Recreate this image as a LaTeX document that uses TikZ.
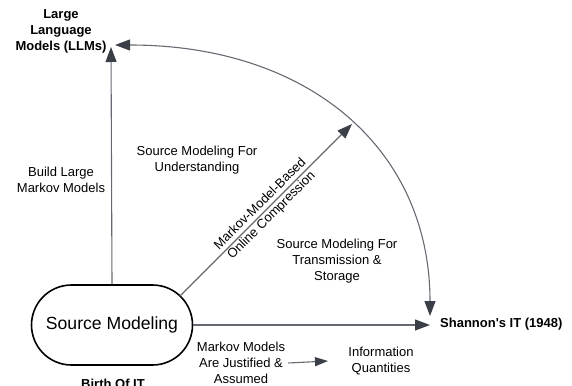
\documentclass[tikz,border=0pt]{standalone}
\usepackage{fontspec}
\setmainfont{Liberation Sans}
\usetikzlibrary{arrows.meta,positioning}
\definecolor{linegray}{HTML}{656A72}
\definecolor{headgray}{HTML}{3B4048}
\begin{document}
\begin{tikzpicture}[x=1pt,y=1pt]
                \tikzstyle{every node}+=[inner sep=0pt]
                \tikzstyle{lbl}=[align=center, font=\fontsize{13}{16}\selectfont]
                \tikzstyle{blbl}=[align=center, font=\fontsize{13}{16}\selectfont\bfseries]
                \tikzstyle{conn}=[draw=linegray, line width=1.1pt, -{Triangle[length=15pt,width=11pt,color=headgray]}]
                \tikzstyle{twoway}=[draw=linegray, line width=1.1pt, {Triangle[length=15pt,width=11pt,color=headgray]}-{Triangle[length=15pt,width=11pt,color=headgray]}]
                \tikzstyle{small}=[draw=linegray, line width=1.1pt, -{Triangle[length=13pt,width=9pt,color=headgray]}]
                \useasboundingbox (0,0) rectangle (572,-385);
                \node [draw=black, line width=1.6pt, rounded corners=40pt, minimum width=161pt, minimum height=80pt, font=\fontsize{17.6}{20}\selectfont] (src) at (112,-325) {Source Modeling};
                \node [blbl] (llm) at (61,-31) {Large\\Language\\Models (LLMs)};
                \node [blbl, anchor=west] (shannon) at (440,-324) {Shannon\textquotesingle s IT (1948)};
                \node [blbl, anchor=base] (birth) at (113,-388) {Birth Of IT};
                \coordinate (llmup) at (111,-47);
                \coordinate (llmarc) at (115,-45);
                \coordinate (shtip) at (430,-325);
                \coordinate (shtop) at (430,-316);
                \coordinate (diagfoot) at (180,-296);
                \coordinate (diagtip) at (352,-124);
                \draw [conn] (src.north) -- (llmup);
                \draw [conn] (src.east) -- (shtip);
                \draw [twoway] (shtop) .. controls (430,-150) and (310,-45) .. (llmarc);
                \draw [conn] (diagfoot) -- node [lbl, sloped] (online) {Markov-Model-Based\\Online Compression} (diagtip);
                \node [lbl] (build) at (61,-180) {Build Large\\Markov Models};
                \node [lbl] (understand) at (197,-160) {Source Modeling For\\Understanding};
                \node [lbl] (transmit) at (337,-261) {Source Modeling For\\Transmission \&\\Storage};
                \node [lbl] (justified) at (241,-363) {Markov Models\\Are Justified \&\\Assumed};
                \node [lbl] (quant) at (381,-361) {Information\\Quantities};
                \draw [small] (justified.east) ++(3,0) coordinate (jright) -- (quant.west -| 328,0);
            \end{tikzpicture}
\end{document}
